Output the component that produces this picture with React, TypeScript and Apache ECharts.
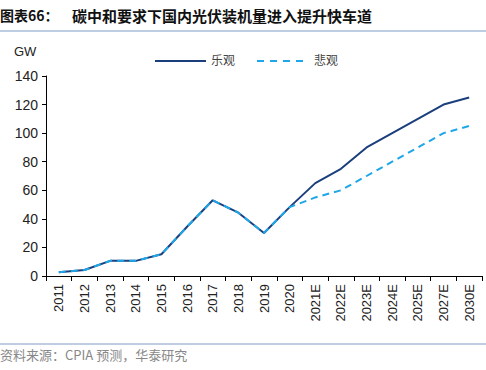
import React, { useEffect, useRef } from "react";
import * as echarts from "echarts";

const categories = ["2011","2012","2013","2014","2015","2016","2017","2018","2019","2020","2021E","2022E","2023E","2024E","2025E","2027E","2030E"];
const optimistic = [2.7, 4.2, 10.6, 10.6, 15.2, 34.5, 53.0, 44.3, 30.1, 48.2, 65, 75, 90, 100, 110, 120, 125];
const pessimistic = [2.7, 4.2, 10.6, 10.6, 15.2, 34.5, 53.0, 44.3, 30.1, 48.2, 55, 60, 70, 80, 90, 100, 105];
const seriesNames = ["乐观", "悲观"];
const yTicks = { min: 0, max: 140, interval: 20 };

const DARK = "#1b3f7c";
const LIGHT = "#1ea7e8";
const FONT = "'Liberation Sans', Arial, sans-serif";
const CJK = "'Noto Sans CJK SC', sans-serif";

export default function App() {
  const ref = useRef<HTMLDivElement>(null);
  useEffect(() => {
    if (!ref.current) return;
    const chart = echarts.init(ref.current, null, { renderer: "svg" });
    chart.setOption({
      animation: false,
      backgroundColor: "#ffffff",
      grid: { left: 46, right: 4, top: 76, bottom: 94, containLabel: false },
      xAxis: {
        type: "category",
        data: categories,
        boundaryGap: true,
        axisLine: { lineStyle: { color: "#000", width: 1 } },
        axisTick: { show: true, length: 5, lineStyle: { color: "#000" } },
        axisLabel: { interval: 0, rotate: 90, fontFamily: FONT, fontSize: 13, color: "#222", margin: 8 },
      },
      yAxis: {
        type: "value",
        min: yTicks.min,
        max: yTicks.max,
        interval: yTicks.interval,
        splitLine: { show: false },
        axisLine: { show: true, lineStyle: { color: "#000", width: 1 } },
        axisTick: { show: true, length: 4, lineStyle: { color: "#000" } },
        axisLabel: { fontFamily: FONT, fontSize: 14, color: "#222", margin: 8 },
      },
      series: [
        {
          name: seriesNames[0],
          type: "line",
          data: optimistic,
          symbol: "none",
          z: 2,
          itemStyle: { color: DARK },
          lineStyle: { color: DARK, width: 2 },
        },
        {
          name: seriesNames[1],
          type: "line",
          data: pessimistic,
          symbol: "none",
          z: 3,
          itemStyle: { color: LIGHT },
          lineStyle: { color: LIGHT, width: 2, type: [7, 5] },
        },
      ],
      graphic: [
        {
          type: "text",
          left: 0,
          top: 8,
          style: { text: "图表66：", fontFamily: CJK, fontSize: 14, fontWeight: "bold", fill: "#111" },
        },
        {
          type: "text",
          left: 72,
          top: 8,
          style: { text: "碳中和要求下国内光伏装机量进入提升快车道", fontFamily: CJK, fontSize: 15, fontWeight: "bold", fill: "#111" },
        },
        {
          type: "line",
          shape: { x1: 0, y1: 31, x2: 486, y2: 31 },
          style: { stroke: "#7f9cc4", lineWidth: 1 },
        },
        {
          type: "text",
          left: 14,
          top: 45,
          style: { text: "GW", fontFamily: FONT, fontSize: 13, fill: "#222" },
        },
        {
          type: "line",
          shape: { x1: 155, y1: 61, x2: 206, y2: 61 },
          style: { stroke: DARK, lineWidth: 2 },
        },
        {
          type: "text",
          left: 211,
          top: 53,
          style: { text: seriesNames[0], fontFamily: CJK, fontSize: 12, fill: "#444" },
        },
        {
          type: "line",
          shape: { x1: 257, y1: 61, x2: 306, y2: 61 },
          style: { stroke: LIGHT, lineWidth: 2, lineDash: [7, 6] },
        },
        {
          type: "text",
          left: 314,
          top: 53,
          style: { text: seriesNames[1], fontFamily: CJK, fontSize: 12, fill: "#444" },
        },
        {
          type: "line",
          shape: { x1: 0, y1: 344, x2: 486, y2: 344 },
          style: { stroke: "#7f9cc4", lineWidth: 1 },
        },
        {
          type: "text",
          left: 0,
          top: 348,
          style: { text: "资料来源：CPIA 预测，华泰研究", fontFamily: CJK, fontSize: 13, fill: "#888" },
        },
      ],
    });
    return () => chart.dispose();
  }, []);
  return <div ref={ref} style={{ position: "fixed", left: 0, top: 0, width: 486, height: 370 }} />;
}
